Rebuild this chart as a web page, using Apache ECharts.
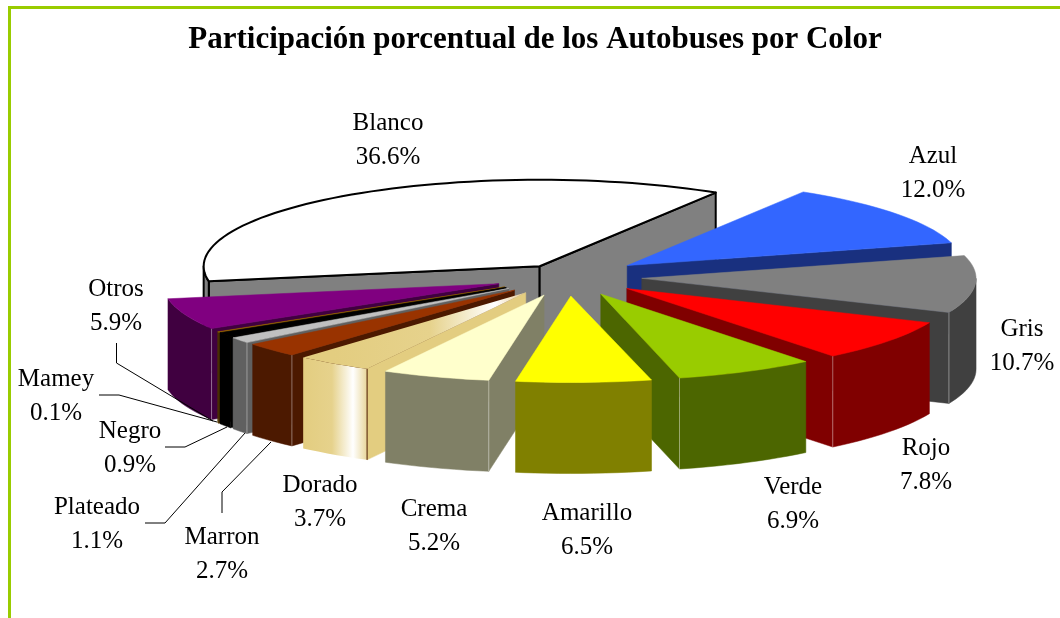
<!DOCTYPE html>
<html>
<head>
<meta charset="utf-8">
<title>Participación porcentual de los Autobuses por Color</title>
<script src="https://cdn.jsdelivr.net/npm/echarts@6/dist/echarts.min.js"></script>
<style>
  html, body { margin: 0; padding: 0; background: #fff; }
  #chart { width: 1060px; height: 618px; }
</style>
</head>
<body>
<div id="chart"></div>
<script>
  // data
  const categories = ['Azul', 'Gris', 'Rojo', 'Verde', 'Amarillo', 'Crema', 'Dorado', 'Marron', 'Plateado', 'Negro', 'Mamey', 'Otros', 'Blanco'];
  const values = [12.0, 10.7, 7.8, 6.9, 6.5, 5.2, 3.7, 2.7, 1.1, 0.9, 0.1, 5.9, 36.6];

  // styles, same order as categories
  const topColors = ['#3366ff', '#808080', '#ff0000', '#99cc00', '#ffff00', '#ffffcc', '#e3cd80', '#993300', '#c0c0c0', '#000000', '#996600', '#800080', '#ffffff'];
  const wallColors = ['#19307f', '#404040', '#800000', '#4c6600', '#808000', '#808066', '#e3cd80', '#4c1900', '#606060', '#000000', '#4c3300', '#400040', '#808080'];
  const explode = [0.22, 0.22, 0.22, 0.22, 0.22, 0.22, 0.22, 0.22, 0.22, 0.22, 0.22, 0.22, 0.15];
  // the original has a little perspective, front right slices come out narrower
  const widthScale = [1, 0.995, 0.98, 0.976, 1, 1, 1, 1, 1, 1, 1, 1, 1];

  // back to front
  const drawOrder = ['Blanco', 'Azul', 'Gris', 'Otros', 'Mamey', 'Negro', 'Plateado', 'Marron', 'Dorado', 'Crema', 'Rojo', 'Verde', 'Amarillo'];

  // pie projection
  const cx = 568, cy = 277, rx = 336, ry = 86.5, depth = 91, startAngle = 31.6;

  // label centres [x, first line y]
  const labelPos = {
    Azul: [933, 157], Gris: [1022, 330], Rojo: [926, 449], Verde: [793, 488], Amarillo: [587, 514],
    Crema: [434, 510], Dorado: [320, 486], Marron: [222, 538], Plateado: [97, 508], Negro: [130, 432],
    Mamey: [56, 380], Otros: [116, 290], Blanco: [388, 124],
  };
  const leaders = {
    Otros: [[116.5, 343], [116.5, 363], [213, 421]],
    Mamey: [[99, 395], [119, 395], [217, 422]],
    Negro: [[165, 447], [185, 447], [227, 427]],
    Plateado: [[145, 523], [165, 523], [245, 433]],
    Marron: [[222, 513], [222, 492], [271, 442]],
  };

  const total = values.reduce((a, b) => a + b, 0);
  const rad = (d) => (d * Math.PI) / 180;

  function sliceAngles(index) {
    let sum = 0;
    for (let i = 0; i < index; i++) sum += values[i];
    const s = startAngle + (sum / total) * 360;
    return [s, s + (values[index] / total) * 360];
  }

  function poly(points, fill, stroke, width) {
    return {
      type: 'polygon',
      shape: { points },
      style: { fill, stroke: stroke || fill, lineWidth: width === undefined ? 0.5 : width, lineJoin: 'round' },
    };
  }

  function renderSlice(params, api) {
    const index = api.value(0);
    const name = categories[index];
    const [s, e] = sliceAngles(index);
    const mid = rad((s + e) / 2);
    const ax = cx + explode[index] * rx * Math.sin(mid);
    const ay = cy - explode[index] * ry * Math.cos(mid);
    const rim = (deg, h) => [ax + rx * widthScale[index] * Math.sin(rad(deg)), ay - ry * Math.cos(rad(deg)) + h];
    const apex = (h) => [ax, ay + h];
    const isBlanco = name === 'Blanco';
    const isDorado = name === 'Dorado';
    const edge = isBlanco ? '#000' : null;
    const edgeWidth = isBlanco ? 2 : undefined;
    const children = [];

    // radial faces, only those turned to the viewer
    if (Math.cos(rad(s - 90)) < 0) {
      children.push(poly([apex(0), rim(s, 0), rim(s, depth), apex(depth)], wallColors[index], edge, edgeWidth));
    }
    if (Math.cos(rad(e + 90)) < 0) {
      children.push(poly([apex(0), rim(e, 0), rim(e, depth), apex(depth)], wallColors[index], edge, edgeWidth));
    }

    // outer wall
    const a0 = Math.max(s, 90), a1 = Math.min(e, 270);
    if (a1 > a0) {
      const upper = [], lower = [];
      for (let d = a0; d < a1; d += 2) {
        upper.push(rim(d, 0));
        lower.unshift(rim(d, depth));
      }
      upper.push(rim(a1, 0));
      lower.unshift(rim(a1, depth));
      let fill = wallColors[index];
      if (isDorado) {
        fill = new echarts.graphic.LinearGradient(rim(a1, 0)[0], 0, rim(a0, 0)[0], 0, [
          { offset: 0, color: '#e3cd80' },
          { offset: 0.45, color: '#e6d28c' },
          { offset: 0.78, color: '#ffffff' },
          { offset: 1, color: '#e8d69a' },
        ], true);
      }
      children.push(poly(upper.concat(lower), fill, isDorado ? 'none' : edge, isDorado ? 0 : edgeWidth));

      // thin seam where the wall meets a radial face
      const seamAngle = s > 90 && s < 270 && Math.cos(rad(s - 90)) < 0 ? s : (e > 90 && e < 270 && Math.cos(rad(e + 90)) < 0 ? e : null);
      if (seamAngle !== null && !isBlanco && values[index] >= 1) {
        children.push({
          type: 'line',
          shape: { x1: rim(seamAngle, 0)[0], y1: rim(seamAngle, 0)[1], x2: rim(seamAngle, depth)[0], y2: rim(seamAngle, depth)[1] },
          style: { stroke: isDorado ? '#4c1900' : 'rgba(255,255,255,0.4)', lineWidth: 1 },
        });
      }
    }

    // top
    const topPoints = [apex(0)];
    for (let d = s; d < e; d += 2) topPoints.push(rim(d, 0));
    topPoints.push(rim(e, 0));
    let topFill = topColors[index];
    if (isDorado) {
      const from = rim((s + e) / 2, 0);
      topFill = new echarts.graphic.LinearGradient(from[0], 0, ax, 0, [
        { offset: 0, color: '#e3cd80' },
        { offset: 0.5, color: '#e6d28c' },
        { offset: 0.84, color: '#ffffff' },
        { offset: 1, color: '#e8c98a' },
      ], true);
    }
    children.push(poly(topPoints, topFill, isDorado ? 'none' : edge, isDorado ? 0 : edgeWidth));

    return { type: 'group', children };
  }

  const labelElements = [];
  categories.forEach((name, i) => {
    labelElements.push({
      type: 'text',
      x: labelPos[name][0],
      y: labelPos[name][1] + 16,
      style: {
        text: name + '\n' + values[i].toFixed(1) + '%',
        fontFamily: '"Liberation Serif", serif',
        fontSize: 25,
        lineHeight: 34,
        fill: '#000',
        align: 'center',
        verticalAlign: 'middle',
      },
      z: 20,
    });
    if (leaders[name]) {
      labelElements.push({
        type: 'polyline',
        shape: { points: leaders[name] },
        style: { stroke: '#000', lineWidth: 1, fill: 'none' },
        z: 20,
      });
    }
  });

  // green frame
  const frame = [
    { type: 'line', shape: { x1: 9, y1: 7.5, x2: 1060, y2: 7.5 }, style: { stroke: '#99cc00', lineWidth: 3 } },
    { type: 'line', shape: { x1: 9.5, y1: 6, x2: 9.5, y2: 618 }, style: { stroke: '#99cc00', lineWidth: 3 } },
  ];

  const chart = echarts.init(document.getElementById('chart'), null, { renderer: 'canvas' });
  chart.setOption({
    animation: false,
    backgroundColor: '#fff',
    title: {
      text: 'Participación porcentual de los Autobuses por Color',
      left: 530,
      top: 19,
      textAlign: 'center',
      textStyle: { fontFamily: '"Liberation Serif", serif', fontWeight: 'bold', fontSize: 31, color: '#000' },
    },
    graphic: { elements: frame.concat(labelElements) },
    series: [
      {
        type: 'custom',
        coordinateSystem: 'none',
        silent: true,
        renderItem: renderSlice,
        data: drawOrder.map((name) => [categories.indexOf(name)]),
      },
    ],
  });
</script>
</body>
</html>
